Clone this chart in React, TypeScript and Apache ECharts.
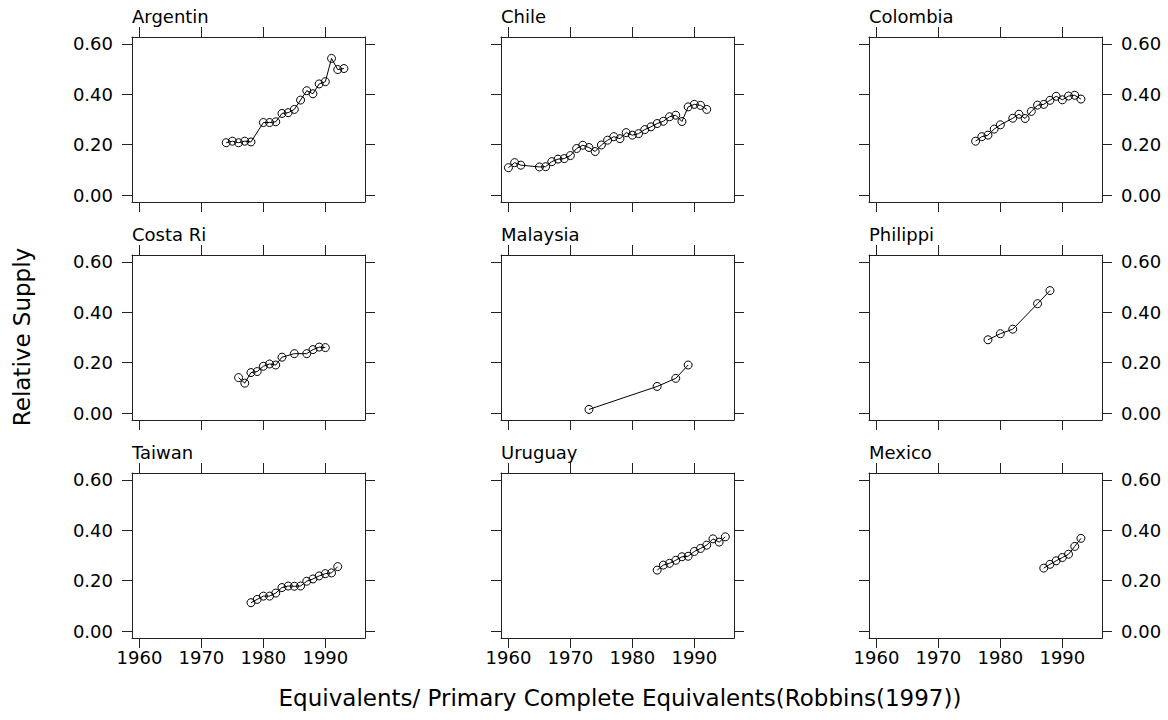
import React, { useEffect, useRef } from "react";
import * as echarts from "echarts";

const panelTitles = ["Argentin", "Chile", "Colombia", "Costa Ri", "Malaysia", "Philippi", "Taiwan", "Uruguay", "Mexico"];

const argentinaYears = [1974, 1975, 1976, 1977, 1978, 1980, 1981, 1982, 1983, 1984, 1985, 1986, 1987, 1988, 1989, 1990, 1991, 1992, 1993];
const argentinaValues = [0.208, 0.214, 0.208, 0.214, 0.211, 0.288, 0.288, 0.291, 0.324, 0.327, 0.34, 0.377, 0.414, 0.402, 0.441, 0.45, 0.542, 0.498, 0.502];

const chileYears = [1960, 1961, 1962, 1965, 1966, 1967, 1968, 1969, 1970, 1971, 1972, 1973, 1974, 1975, 1976, 1977, 1978, 1979, 1980, 1981, 1982, 1983, 1984, 1985, 1986, 1987, 1988, 1989, 1990, 1991, 1992];
const chileValues = [0.109, 0.129, 0.119, 0.112, 0.113, 0.133, 0.143, 0.145, 0.157, 0.185, 0.198, 0.189, 0.173, 0.199, 0.218, 0.232, 0.224, 0.248, 0.238, 0.244, 0.26, 0.271, 0.284, 0.293, 0.311, 0.317, 0.292, 0.35, 0.36, 0.356, 0.34];

const colombiaYears = [1976, 1977, 1978, 1979, 1980, 1982, 1983, 1984, 1985, 1986, 1987, 1988, 1989, 1990, 1991, 1992, 1993];
const colombiaValues = [0.214, 0.232, 0.238, 0.262, 0.279, 0.305, 0.321, 0.304, 0.332, 0.357, 0.36, 0.376, 0.392, 0.378, 0.393, 0.396, 0.381];

const costaRicaYears = [1976, 1977, 1978, 1979, 1980, 1981, 1982, 1983, 1985, 1987, 1988, 1989, 1990];
const costaRicaValues = [0.141, 0.119, 0.161, 0.165, 0.186, 0.195, 0.191, 0.222, 0.236, 0.236, 0.252, 0.262, 0.26];

const malaysiaYears = [1973, 1984, 1987, 1989];
const malaysiaValues = [0.015, 0.106, 0.138, 0.191];

const philippinesYears = [1978, 1980, 1982, 1986, 1988];
const philippinesValues = [0.291, 0.315, 0.333, 0.434, 0.486];

const taiwanYears = [1978, 1979, 1980, 1981, 1982, 1983, 1984, 1985, 1986, 1987, 1988, 1989, 1990, 1991, 1992];
const taiwanValues = [0.113, 0.126, 0.139, 0.139, 0.151, 0.173, 0.179, 0.178, 0.179, 0.198, 0.207, 0.219, 0.228, 0.231, 0.256];

const uruguayYears = [1984, 1985, 1986, 1987, 1988, 1989, 1990, 1991, 1992, 1993, 1994, 1995];
const uruguayValues = [0.242, 0.262, 0.269, 0.281, 0.295, 0.297, 0.316, 0.328, 0.341, 0.366, 0.353, 0.374];

const mexicoYears = [1987, 1988, 1989, 1990, 1991, 1992, 1993];
const mexicoValues = [0.25, 0.265, 0.279, 0.292, 0.305, 0.336, 0.368];

const xTickValues = [1960, 1970, 1980, 1990];
const yTickValues = [0, 0.2, 0.4, 0.6];

const yAxisTitle = "Relative Supply";
const xAxisTitle = "Equivalents/ Primary Complete Equivalents(Robbins(1997))";

const panelYears = [argentinaYears, chileYears, colombiaYears, costaRicaYears, malaysiaYears, philippinesYears, taiwanYears, uruguayYears, mexicoYears];
const panelValues = [argentinaValues, chileValues, colombiaValues, costaRicaValues, malaysiaValues, philippinesValues, taiwanValues, uruguayValues, mexicoValues];

const FONT = "DejaVu Sans";
const INK = "#222";

export default function App() {
  const ref = useRef<HTMLDivElement>(null);

  useEffect(() => {
    if (!ref.current) return;
    const chart = echarts.init(ref.current, null, { renderer: "svg" });

    const colLefts = [132, 501, 869];
    const rowTops = [37, 255, 473];
    const W = 233;
    const H = 165;
    const X_MIN = 1958.8;
    const X_MAX = 1996.4;
    const Y_MIN = -0.027;
    const Y_MAX = 0.627;

    const grids: any[] = [];
    const xAxes: any[] = [];
    const yAxes: any[] = [];
    const series: any[] = [];
    const graphics: any[] = [];

    const lineStyle = { color: INK, width: 1 };

    panelTitles.forEach((name, i) => {
      const row = Math.floor(i / 3);
      const col = i % 3;
      grids.push({ left: colLefts[col], top: rowTops[row], width: W, height: H });

      const baseX = {
        type: "value",
        gridIndex: i,
        min: X_MIN,
        max: X_MAX,
        splitLine: { show: false },
        axisLine: { show: true, onZero: false, lineStyle },
        axisTick: { show: true, inside: false, length: 10, lineStyle, customValues: xTickValues },
      };
      xAxes.push({
        ...baseX,
        position: "bottom",
        axisLabel: {
          show: row === 2,
          customValues: xTickValues,
          margin: 10,
          color: "#000",
          fontFamily: FONT,
          fontSize: 18,
          formatter: (v: number) => String(Math.round(v)),
        },
      });
      xAxes.push({ ...baseX, position: "top", axisLabel: { show: false } });

      const baseY = {
        type: "value",
        gridIndex: i,
        min: Y_MIN,
        max: Y_MAX,
        splitLine: { show: false },
        axisLine: { show: true, onZero: false, lineStyle },
        axisTick: { show: true, inside: false, length: 10, lineStyle, customValues: yTickValues },
      };
      const yLabel = (show: boolean) => ({
        show,
        customValues: yTickValues,
        margin: 19,
        color: "#000",
        fontFamily: FONT,
        fontSize: 18,
        formatter: (v: number) => v.toFixed(2),
      });
      yAxes.push({ ...baseY, position: "left", axisLabel: yLabel(col === 0) });
      yAxes.push({ ...baseY, position: "right", axisLabel: yLabel(col === 2) });

      series.push({
        type: "line",
        xAxisIndex: 2 * i,
        yAxisIndex: 2 * i,
        data: panelYears[i].map((y, k) => [y, panelValues[i][k]]),
        symbol: "circle",
        symbolSize: 8,
        showSymbol: true,
        lineStyle: { color: "#000", width: 1 },
        itemStyle: { color: "transparent", borderColor: "#000", borderWidth: 1 },
        emphasis: { disabled: true },
      });

      graphics.push({
        type: "text",
        left: colLefts[col],
        top: rowTops[row] - 30,
        style: { text: name, fill: "#000", font: `18px '${FONT}'` },
      });
    });

    graphics.push({
      type: "text",
      x: 22,
      y: 337,
      rotation: Math.PI / 2,
      style: {
        text: yAxisTitle,
        fill: "#000",
        font: `23px '${FONT}'`,
        textAlign: "center",
        textVerticalAlign: "middle",
      },
    });
    graphics.push({
      type: "text",
      x: 620,
      y: 698,
      style: {
        text: xAxisTitle,
        fill: "#000",
        font: `23px '${FONT}'`,
        textAlign: "center",
        textVerticalAlign: "middle",
      },
    });

    chart.setOption({
      animation: false,
      backgroundColor: "#fff",
      textStyle: { fontFamily: FONT },
      grid: grids,
      xAxis: xAxes,
      yAxis: yAxes,
      series,
      graphic: graphics,
    });

    return () => chart.dispose();
  }, []);

  return <div ref={ref} style={{ position: "absolute", left: 0, top: 0, width: 1168, height: 720, background: "#fff" }} />;
}
